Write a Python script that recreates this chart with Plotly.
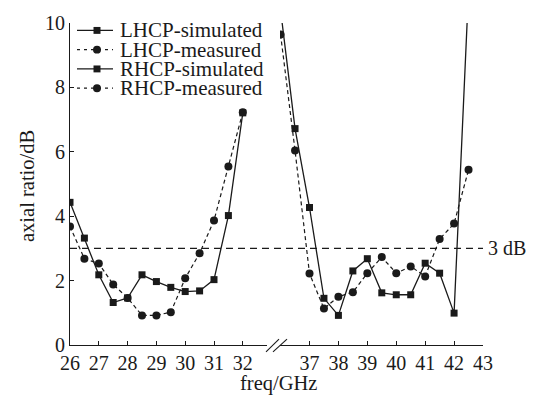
import plotly.graph_objects as go

# ---------------- data ----------------
freq_lhcp = [26, 26.5, 27, 27.5, 28, 28.5, 29, 29.5, 30, 30.5, 31, 31.5, 32]
lhcp_sim = [4.43, 3.32, 2.18, 1.32, 1.46, 2.18, 1.97, 1.79, 1.66, 1.68, 2.03, 4.02, 7.21]
lhcp_meas = [3.68, 2.68, 2.53, 1.88, 1.46, 0.92, 0.92, 1.02, 2.07, 2.85, 3.87, 5.54, 7.23]

freq_rhcp = [36, 36.5, 37, 37.5, 38, 38.5, 39, 39.5, 40, 40.5, 41, 41.5, 42, 42.5]
rhcp_sim = [10.4, 6.72, 4.27, 1.45, 0.92, 2.30, 2.68, 1.62, 1.56, 1.56, 2.54, 2.23, 0.99, 11.0]
rhcp_meas = [9.64, 6.04, 2.22, 1.13, 1.50, 1.64, 2.23, 2.73, 2.23, 2.44, 2.13, 3.29, 3.77, 5.44]

ticks_left = [26, 27, 28, 29, 30, 31, 32]
ticks_right = [37, 38, 39, 40, 41, 42, 43]
yticks = [0, 2, 4, 6, 8, 10]
threshold = 3
threshold_label = "3 dB"
legend_names = ["LHCP-simulated", "LHCP-measured", "RHCP-simulated", "RHCP-measured"]

# ---------------- layout geometry ----------------
W, H = 538, 401
ML, MR, MT, MB = 70, 55, 19, 56
PW, PH = W - ML - MR, H - MT - MB

def px(x):
    return (x - ML) / PW

def py(y):
    return (H - MB - y) / PH

FONT = "Liberation Serif, Times New Roman, serif"
INK = "#1a1a1a"

sim_line = dict(color=INK, width=1.3)
meas_line = dict(color=INK, width=1.2, dash="4px,3px")
sq = dict(symbol="square", size=7, color=INK)
ci = dict(symbol="circle", size=8, color=INK)

fig = go.Figure()
fig.add_trace(go.Scatter(x=freq_lhcp, y=lhcp_sim, mode="lines+markers", line=sim_line,
                         marker=sq, name=legend_names[0], xaxis="x", yaxis="y", cliponaxis=True))
fig.add_trace(go.Scatter(x=freq_lhcp, y=lhcp_meas, mode="lines+markers", line=meas_line,
                         marker=ci, name=legend_names[1], xaxis="x", yaxis="y", cliponaxis=True))
fig.add_trace(go.Scatter(x=freq_rhcp, y=rhcp_meas, mode="lines+markers", line=meas_line,
                         marker=ci, name=legend_names[3], xaxis="x2", yaxis="y", cliponaxis=True))
fig.add_trace(go.Scatter(x=freq_rhcp, y=rhcp_sim, mode="lines+markers", line=sim_line,
                         marker=sq, name=legend_names[2], xaxis="x2", yaxis="y", cliponaxis=True))

axis_common = dict(showline=True, linecolor=INK, linewidth=1.2, ticks="inside", ticklen=4,
                   tickwidth=1.1, tickcolor=INK, showgrid=False, zeroline=False,
                   tickfont=dict(family=FONT, size=20, color=INK))

left_end = 197  # px width of left axis segment
fig.update_layout(
    width=W, height=H,
    margin=dict(l=ML, r=MR, t=MT, b=MB, pad=0),
    paper_bgcolor="white", plot_bgcolor="white",
    showlegend=False,
    font=dict(family=FONT, size=20, color=INK),
    xaxis=dict(domain=[0, left_end / PW], range=[26, 26 + left_end / 28.8],
               tickvals=ticks_left, anchor="y", **axis_common),
    xaxis2=dict(domain=[210 / PW, 1], range=[35.98, 43],
                tickvals=ticks_right, anchor="y", **axis_common),
    yaxis=dict(range=[0, 10], tickvals=yticks, anchor="x", **axis_common),
)

shapes = []
annotations = []

# threshold line
shapes.append(dict(type="line", xref="paper", yref="y", x0=0, x1=1.0, y0=threshold, y1=threshold,
                   line=dict(color=INK, width=1.3, dash="7px,5px")))
annotations.append(dict(text=threshold_label, xref="paper", yref="y", x=px(486), y=threshold,
                        xanchor="left", yanchor="middle", showarrow=False,
                        font=dict(family=FONT, size=20, color=INK)))

# axis break marks
for (x0, x1) in [(266, 279), (273, 287)]:
    shapes.append(dict(type="line", xref="paper", yref="paper", x0=px(x0), x1=px(x1),
                       y0=py(352), y1=py(339), line=dict(color=INK, width=1.1)))

# axis titles
annotations.append(dict(text="freq/GHz", xref="paper", yref="paper", x=px(278), y=py(384),
                        xanchor="center", yanchor="middle", showarrow=False,
                        font=dict(family=FONT, size=20.5, color=INK)))
annotations.append(dict(text="axial ratio/dB", xref="paper", yref="paper", x=px(27), y=py(184),
                        xanchor="center", yanchor="middle", textangle=-90, showarrow=False,
                        font=dict(family=FONT, size=20.5, color=INK)))

# manual legend
for i, name in enumerate(legend_names):
    yc = 26.5 + i * 19.5
    is_sim = (i % 2 == 0)
    shapes.append(dict(type="line", xref="paper", yref="paper", x0=px(77), x1=px(113),
                       y0=py(yc), y1=py(yc),
                       line=dict(color=INK, width=1.3 if is_sim else 1.2,
                                 dash="solid" if is_sim else "3px,4px")))
    mx = 97
    if is_sim:
        shapes.append(dict(type="rect", xref="paper", yref="paper", x0=px(mx - 3.5), x1=px(mx + 3.5),
                           y0=py(yc + 3.5), y1=py(yc - 3.5), fillcolor=INK, line=dict(width=0)))
    else:
        shapes.append(dict(type="circle", xref="paper", yref="paper", x0=px(mx - 4), x1=px(mx + 4),
                           y0=py(yc + 4), y1=py(yc - 4), fillcolor=INK, line=dict(width=0)))
    annotations.append(dict(text=name, xref="paper", yref="paper", x=px(118), y=py(yc),
                            xanchor="left", yanchor="middle", showarrow=False,
                            font=dict(family=FONT, size=21, color=INK)))

fig.update_layout(shapes=shapes, annotations=annotations)
fig.write_html("out.html")
